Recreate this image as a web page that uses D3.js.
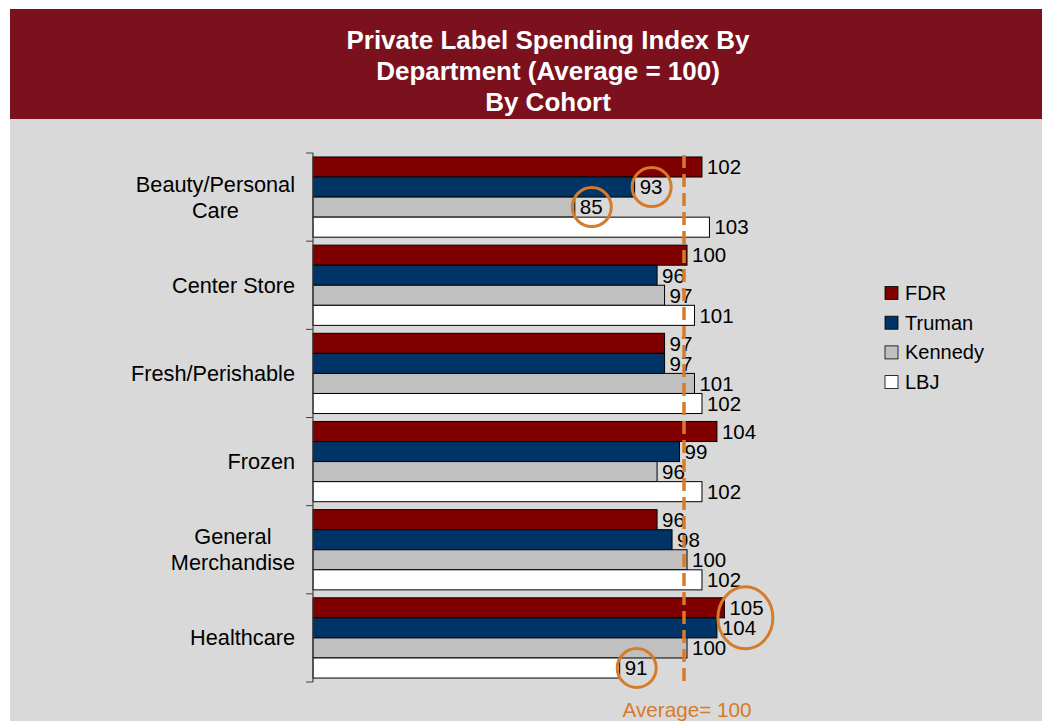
<!DOCTYPE html>
<html>
<head>
<meta charset="utf-8">
<script src="https://cdn.jsdelivr.net/npm/d3@7"></script>
<style>
  body { margin: 0; background: #ffffff; }
  svg text { font-family: "Liberation Sans", Arial, sans-serif; }
</style>
</head>
<body>
<svg id="chart" width="1044" height="721"></svg>
<script>
// chart data
var categories = ["Beauty/Personal Care", "Center Store", "Fresh/Perishable", "Frozen", "General Merchandise", "Healthcare"];
var categoryLines = [["Beauty/Personal", "Care"], ["Center Store"], ["Fresh/Perishable"], ["Frozen"], ["General", "Merchandise"], ["Healthcare"]];
var seriesNames = ["FDR", "Truman", "Kennedy", "LBJ"];
var fdrValues = [102, 100, 97, 104, 96, 105];
var trumanValues = [93, 96, 97, 99, 98, 104];
var kennedyValues = [85, 97, 101, 96, 100, 100];
var lbjValues = [103, 101, 102, 102, 102, 91];
var seriesColors = ["#800000", "#003366", "#c0c0c0", "#ffffff"];
var averageValue = 100;
// highlighted labels (circled in the original)
var circled = [["Beauty/Personal Care", "Truman"], ["Beauty/Personal Care", "Kennedy"], ["Healthcare", "LBJ"]];
var circledPair = ["Healthcare", "FDR", "Truman"];

var titleLines = ["Private Label Spending Index By", "Department (Average = 100)", "By Cohort"];

var values = { "FDR": fdrValues, "Truman": trumanValues, "Kennedy": kennedyValues, "LBJ": lbjValues };

var svg = d3.select("#chart");

// background panels
svg.append("rect").attr("x", 10).attr("y", 119).attr("width", 1032).attr("height", 602).attr("fill", "#d9d9d9");
svg.append("rect").attr("x", 10).attr("y", 9).attr("width", 1032).attr("height", 110).attr("fill", "#7b111d");

svg.selectAll("text.title")
    .data(titleLines)
    .enter().append("text")
    .attr("class", "title")
    .attr("x", 548)
    .attr("y", function(d, i) { return 49 + i * 31; })
    .attr("text-anchor", "middle")
    .attr("font-size", 26)
    .attr("font-weight", "bold")
    .attr("fill", "#ffffff")
    .text(function(d) { return d; });

// scales
var x = d3.scaleLinear().domain([50, 100]).range([313, 687]);
var y0 = d3.scaleBand().domain(categories).range([153, 682]).paddingInner(0.09).paddingOuter(0.045);
var y1 = d3.scaleBand().domain(seriesNames).range([0, y0.bandwidth()]);
var color = d3.scaleOrdinal().domain(seriesNames).range(seriesColors);

var rows = [];
categories.forEach(function(c, ci) {
    seriesNames.forEach(function(s) {
        rows.push({ cat: c, series: s, value: values[s][ci] });
    });
});

// bars
svg.append("g").selectAll("rect")
    .data(rows)
    .enter().append("rect")
    .attr("x", x(50))
    .attr("y", function(d) { return y0(d.cat) + y1(d.series); })
    .attr("width", function(d) { return x(d.value) - x(50); })
    .attr("height", y1.bandwidth())
    .attr("fill", function(d) { return color(d.series); })
    .attr("stroke", "#000000")
    .attr("stroke-width", 1);

// category axis: line + ticks on band edges
var edges = categories.map(function(c) { return y0(c) - y0.step() * 0.045; });
edges.push(682);
var axis = svg.append("g");
axis.append("line").attr("x1", 313).attr("x2", 313).attr("y1", 153).attr("y2", 682)
    .attr("stroke", "#404040").attr("stroke-width", 1.2);
axis.selectAll("line.tick")
    .data(edges)
    .enter().append("line")
    .attr("class", "tick")
    .attr("x1", 306).attr("x2", 313)
    .attr("y1", function(d) { return d; }).attr("y2", function(d) { return d; })
    .attr("stroke", "#404040").attr("stroke-width", 1);

// category labels, block right-aligned at x=295
categories.forEach(function(c, ci) {
    var lines = categoryLines[ci];
    var cy = y0(c) + y0.bandwidth() / 2;
    var g = svg.append("g");
    var texts = g.selectAll("text")
        .data(lines)
        .enter().append("text")
        .attr("font-size", 21.7)
        .attr("fill", "#000000")
        .attr("text-anchor", "middle")
        .attr("y", function(d, i) { return cy + (i - (lines.length - 1) / 2) * 26 + 7.5; })
        .text(function(d) { return d; });
    var maxW = 0;
    texts.each(function() { maxW = Math.max(maxW, this.getComputedTextLength()); });
    texts.attr("x", 295 - maxW / 2);
});

// value labels
svg.append("g").selectAll("text")
    .data(rows)
    .enter().append("text")
    .attr("x", function(d) { return x(d.value) + 5; })
    .attr("y", function(d) { return y0(d.cat) + y1(d.series) + y1.bandwidth() / 2 + 7.3; })
    .attr("font-size", 20.5)
    .attr("fill", "#000000")
    .text(function(d) { return d.value; });

// average line
var orange = "#d67b29";
svg.append("line")
    .attr("x1", x(averageValue) - 3).attr("x2", x(averageValue) - 3)
    .attr("y1", 155).attr("y2", 681)
    .attr("stroke", orange).attr("stroke-width", 3.5)
    .attr("stroke-dasharray", "13,6");
svg.append("text")
    .attr("x", x(averageValue))
    .attr("y", 717)
    .attr("text-anchor", "middle")
    .attr("font-size", 20.7)
    .attr("fill", orange)
    .text("Average= " + averageValue);

// circled labels
function rowOf(cat, s) {
    return rows.filter(function(r) { return r.cat === cat && r.series === s; })[0];
}
svg.append("g").selectAll("circle")
    .data(circled.map(function(p) { return rowOf(p[0], p[1]); }))
    .enter().append("circle")
    .attr("cx", function(d) { return x(d.value) + 17; })
    .attr("cy", function(d) { return y0(d.cat) + y1(d.series) + y1.bandwidth() / 2; })
    .attr("r", 19.5)
    .attr("fill", "none")
    .attr("stroke", orange)
    .attr("stroke-width", 3);
var pa = rowOf(circledPair[0], circledPair[1]);
var pb = rowOf(circledPair[0], circledPair[2]);
svg.append("ellipse")
    .attr("cx", x(Math.max(pa.value, pb.value)) + 21)
    .attr("cy", y0(pa.cat) + y1(circledPair[2]))
    .attr("rx", 27.5)
    .attr("ry", 31)
    .attr("fill", "none")
    .attr("stroke", orange)
    .attr("stroke-width", 3);

// legend
var legend = svg.append("g").selectAll("g")
    .data(seriesNames)
    .enter().append("g")
    .attr("transform", function(d, i) { return "translate(885," + (293 + i * 29.7) + ")"; });
legend.append("rect")
    .attr("x", 0).attr("y", -6.5)
    .attr("width", 13).attr("height", 13)
    .attr("fill", function(d) { return color(d); })
    .attr("stroke", "#000000").attr("stroke-width", 0.8);
legend.append("text")
    .attr("x", 20).attr("y", 7)
    .attr("font-size", 20)
    .attr("fill", "#000000")
    .text(function(d) { return d; });
</script>
</body>
</html>
